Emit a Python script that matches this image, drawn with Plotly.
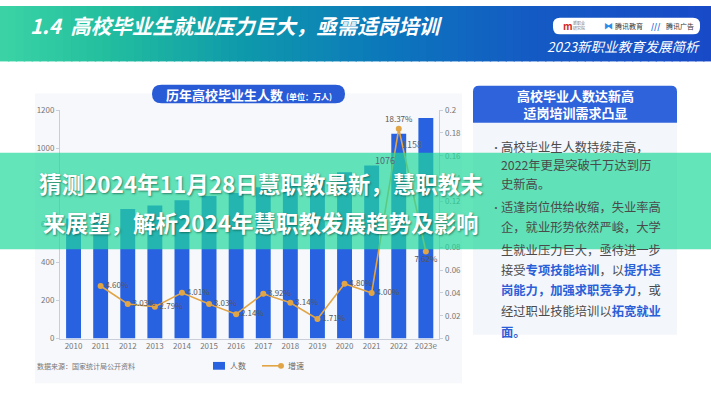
import plotly.graph_objects as go

# ---------------- data ----------------
years = ["2010", "2011", "2012", "2013", "2014", "2015", "2016",
         "2017", "2018", "2019", "2020", "2021", "2022", "2023e"]
graduates = [631, 660, 680, 699, 727, 749, 765, 795, 820, 834, 874, 909, 1076, 1158]
growth_years = ["2011", "2012", "2013", "2014", "2015", "2016",
                "2017", "2018", "2019", "2020", "2021", "2022", "2023e"]
growth = [0.0460, 0.0303, 0.0279, 0.0401, 0.0303, 0.0214, 0.0392,
          0.0314, 0.0171, 0.0480, 0.0400, 0.1837, 0.0762]
growth_labels = ["4.60%", "3.03%", "2.79%", "4.01%", "3.03%", "2.14%", "3.92%",
                 "3.14%", "1.71%", "4.80%", "4.00%", "18.37%", "7.62%"]
growth_textpos = ["middle right"] * 11 + ["top center", "bottom center"]
left_ticks = [0, 200, 400, 600, 800, 1000, 1200]
right_ticks = [0, 0.02, 0.04, 0.06, 0.08, 0.10, 0.12, 0.14, 0.16, 0.18, 0.2]
labeled_bars = ["2022", "2023e"]

W, H = 711, 400
FONT = "Noto Sans CJK SC"
BLUE = "#2962e0"
GOLD = "#e2a546"


def px(x):
    return x / W


def py(y):
    return 1 - y / H


def rrect(x0, y0, x1, y1, r, corners=(1, 1, 1, 1)):
    tl, tr, br, bl = [r * c for c in corners]
    pts = [f"M {px(x0 + tl)},{py(y0)}", f"L {px(x1 - tr)},{py(y0)}"]
    if tr:
        pts.append(f"Q {px(x1)},{py(y0)} {px(x1)},{py(y0 + tr)}")
    pts.append(f"L {px(x1)},{py(y1 - br)}")
    if br:
        pts.append(f"Q {px(x1)},{py(y1)} {px(x1 - br)},{py(y1)}")
    pts.append(f"L {px(x0 + bl)},{py(y1)}")
    if bl:
        pts.append(f"Q {px(x0)},{py(y1)} {px(x0)},{py(y1 - bl)}")
    pts.append(f"L {px(x0)},{py(y0 + tl)}")
    if tl:
        pts.append(f"Q {px(x0)},{py(y0)} {px(x0 + tl)},{py(y0)}")
    pts.append("Z")
    return " ".join(pts)


fig = go.Figure()

fig.add_trace(go.Bar(
    x=years, y=graduates, name="人数", marker_color=BLUE,
    marker_line_width=0, xaxis="x", yaxis="y", showlegend=False,
))
fig.add_trace(go.Scatter(
    x=growth_years, y=growth, name="增速", yaxis="y2", xaxis="x",
    mode="lines+markers+text",
    line=dict(color=GOLD, width=1.6),
    marker=dict(color=GOLD, size=6),
    text=growth_labels, textposition=growth_textpos,
    textfont=dict(size=8, color="#555555", family=FONT),
    showlegend=False, cliponaxis=False,
))

shapes = []
shapes.append(dict(type="rect", xref="paper", yref="paper",
                   x0=px(35), x1=px(462), y0=py(388), y1=py(90),
                   fillcolor="#f6f8fc", line_width=0, layer="below"))
stops = [(0.0, (60, 212, 166)), (0.15, (34, 190, 158)), (0.35, (14, 152, 172)),
         (0.55, (12, 118, 188)), (0.75, (20, 90, 196)), (1.0, (24, 74, 200))]


def col(t):
    for (a, ca), (b, cb) in zip(stops[:-1], stops[1:]):
        if a <= t <= b:
            f = (t - a) / (b - a)
            return "rgb(%d,%d,%d)" % tuple(round(ca[i] + (cb[i] - ca[i]) * f) for i in range(3))
    return "rgb(%d,%d,%d)" % stops[-1][1]


N = 90
for i in range(N):
    t0, t1 = i / N, (i + 1) / N
    shapes.append(dict(type="rect", xref="paper", yref="paper",
                       x0=t0, x1=t1 + 0.002, y0=py(57), y1=1,
                       fillcolor=col((t0 + t1) / 2), line_width=0, layer="below"))
shapes.append(dict(type="path", xref="paper", yref="paper",
                   path=rrect(553, 12, 700, 29, 7), fillcolor="white", line_width=0, layer="below"))
shapes.append(dict(type="path", xref="paper", yref="paper",
                   path=rrect(152, 81, 345, 100, 9.5), fillcolor="#2a5bd6", line_width=0, layer="below"))
shapes.append(dict(type="rect", xref="paper", yref="paper",
                   x0=px(473), x1=px(677), y0=py(338), y1=py(120),
                   fillcolor="#f3f6fb", line_width=0, layer="below"))
shapes.append(dict(type="path", xref="paper", yref="paper",
                   path=rrect(473, 82, 677, 120, 6, (1, 1, 0, 0)),
                   fillcolor="#2f63dc", line_width=0, layer="below"))
# legend keys
shapes.append(dict(type="rect", xref="paper", yref="paper",
                   x0=px(213), x1=px(225), y0=py(374), y1=py(366),
                   fillcolor=BLUE, line_width=0, layer="below"))
shapes.append(dict(type="line", xref="paper", yref="paper",
                   x0=px(262), x1=px(281), y0=py(370), y1=py(370),
                   line=dict(color=GOLD, width=1.6), layer="below"))
shapes.append(dict(type="circle", xref="paper", yref="paper",
                   x0=px(278), x1=px(284), y0=py(373), y1=py(367),
                   fillcolor=GOLD, line_width=0, layer="below"))
# overlay banner
shapes.append(dict(type="rect", xref="paper", yref="paper",
                   x0=0, x1=1, y0=py(250), y1=py(151),
                   fillcolor="rgba(34,216,155,0.70)", line_width=0, layer="above"))

ann = []
ann.append(dict(x=px(28), y=py(20), xref="paper", yref="paper", xanchor="left", yanchor="middle",
                text="<b><i>1.4  高校毕业生就业压力巨大，亟需适岗培训</i></b>", showarrow=False,
                font=dict(size=20.5, color="white", family=FONT)))
ann.append(dict(x=px(702), y=py(41), xref="paper", yref="paper", xanchor="right", yanchor="middle",
                text="<i>2023新职业教育发展简析</i>", showarrow=False,
                font=dict(size=13.5, color="white", family=FONT)))
ann.append(dict(x=px(561), y=py(20.5), xref="paper", yref="paper", xanchor="left", yanchor="middle",
                text="<b>m</b>", showarrow=False, font=dict(size=10, color="#d42a2a", family=FONT)))
ann.append(dict(x=px(571), y=py(20.5), xref="paper", yref="paper", xanchor="left", yanchor="middle",
                text="新职业<br>研究院", showarrow=False, font=dict(size=4, color="#777", family=FONT)))
ann.append(dict(x=px(602), y=py(20.5), xref="paper", yref="paper", xanchor="left", yanchor="middle",
                text="<b>⧓</b>", showarrow=False, font=dict(size=9, color="#2c8be8", family="DejaVu Sans")))
ann.append(dict(x=px(613), y=py(20.5), xref="paper", yref="paper", xanchor="left", yanchor="middle",
                text="腾讯教育", showarrow=False, font=dict(size=7, color="#333", family=FONT)))
ann.append(dict(x=px(649), y=py(20.5), xref="paper", yref="paper", xanchor="left", yanchor="middle",
                text="<b>///</b>", showarrow=False, font=dict(size=8, color="#2a6ee0", family=FONT)))
ann.append(dict(x=px(664), y=py(20.5), xref="paper", yref="paper", xanchor="left", yanchor="middle",
                text="腾讯广告", showarrow=False, font=dict(size=7, color="#333", family=FONT)))
ann.append(dict(x=px(248.5), y=py(90.5), xref="paper", yref="paper", xanchor="center", yanchor="middle",
                text="<b>历年高校毕业生人数</b> <span style='font-size:8px'><b>(单位：万人)</b></span>",
                showarrow=False, font=dict(size=13, color="white", family=FONT)))
for yr in labeled_bars:
    i = years.index(yr)
    ann.append(dict(x=i, y=graduates[i], xref="x", yref="y", xanchor="center", yanchor="top",
                    xshift=-14, yshift=-18, text=f"{graduates[i]}", showarrow=False,
                    font=dict(size=9, color="#5a6478", family=FONT)))
ann.append(dict(x=px(575), y=py(101), xref="paper", yref="paper", xanchor="center", yanchor="middle",
                text="<b>高校毕业人数达新高<br>适岗培训需求凸显</b>", showarrow=False,
                font=dict(size=13, color="white", family=FONT)))
HB = "#2b5fd8"
body = [
    (145, "高校毕业生人数持续走高，", True),
    (164, "2022年更是突破千万达到历", False),
    (183, "史新高。", False),
    (207, "适逢岗位供给收缩，失业率高", True),
    (227, "企，就业形势依然严峻，大学", False),
    (251, "生就业压力巨大，亟待进一步", False),
    (271, f"接受<b><span style='color:{HB}'>专项技能培训</span></b>，以<b><span style='color:{HB}'>提升适</span></b>", False),
    (292, f"<b><span style='color:{HB}'>岗能力，加强求职竞争力</span></b>，或", False),
    (314, f"经过职业技能培训以<b><span style='color:{HB}'>拓宽就业</span></b>", False),
    (335, f"<b><span style='color:{HB}'>面。</span></b>", False),
]
for y, t, bullet in body:
    ann.append(dict(x=px(499), y=py(y), xref="paper", yref="paper", xanchor="left", yanchor="middle",
                    text=t, showarrow=False, font=dict(size=12.3, color="#4a4a4a", family=FONT)))
    if bullet:
        ann.append(dict(x=px(489), y=py(y), xref="paper", yref="paper", xanchor="left", yanchor="middle",
                        text="•", showarrow=False, font=dict(size=10, color="#555", family=FONT)))
ann.append(dict(x=px(35), y=py(370), xref="paper", yref="paper", xanchor="left", yanchor="middle",
                text="数据来源：国家统计局公开资料", showarrow=False,
                font=dict(size=7, color="#777", family=FONT)))
ann.append(dict(x=px(228), y=py(370), xref="paper", yref="paper", xanchor="left", yanchor="middle",
                text="人数", showarrow=False, font=dict(size=8, color="#666", family=FONT)))
ann.append(dict(x=px(286), y=py(370), xref="paper", yref="paper", xanchor="left", yanchor="middle",
                text="增速", showarrow=False, font=dict(size=8, color="#666", family=FONT)))
for y, t in [(182, "猜测2024年11月28日慧职教最新，慧职教未"),
             (222, "来展望，解析2024年慧职教发展趋势及影响")]:
    ann.append(dict(x=px(261), y=py(y), xref="paper", yref="paper", xanchor="center", yanchor="middle",
                    text=f"<b>{t}</b>", showarrow=False,
                    font=dict(size=22.5, color="white", family=FONT,
                              shadow="1px 1px 2px rgba(0,60,40,0.55)")))

axis_common = dict(showline=True, linecolor="#c9ced8", linewidth=1, showgrid=False,
                   zeroline=False, tickfont=dict(size=8, color="#777", family=FONT))

fig.update_layout(
    width=W, height=H, margin=dict(l=0, r=0, t=0, b=0),
    paper_bgcolor="white", plot_bgcolor="rgba(0,0,0,0)",
    font=dict(family=FONT),
    bargap=0.45,
    xaxis=dict(domain=[px(60), px(439.4)], type="category", ticks="",
               categoryorder="array", categoryarray=years,
               range=[-0.5, len(years) - 0.5], autorange=False,
               **axis_common),
    yaxis=dict(domain=[py(342), py(107)], range=[0, 1200], tickvals=left_ticks,
               ticks="outside", ticklen=3, tickcolor="#c9ced8", **axis_common),
    yaxis2=dict(domain=[py(342), py(107)], range=[0, 0.2], tickvals=right_ticks,
                overlaying="y", side="right", anchor="x",
                ticks="outside", ticklen=3, tickcolor="#c9ced8", **axis_common),
    showlegend=False,
    shapes=shapes, annotations=ann,
)

fig.write_html("out.html", config={"displayModeBar": False},
               post_script="document.body.style.margin='0';")
